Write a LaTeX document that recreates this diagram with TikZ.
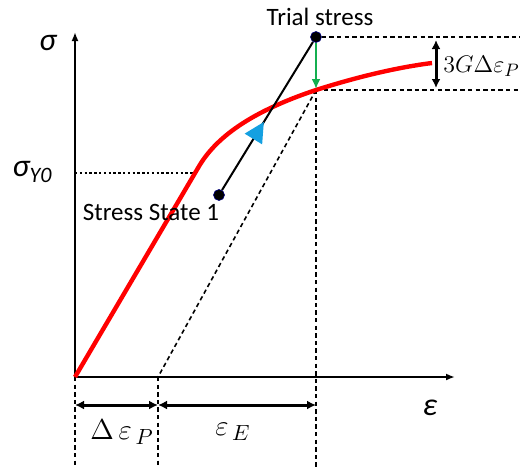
\documentclass[tikz,border=0pt]{standalone}
\usepackage{fontspec}
\setmainfont{Carlito}
\usetikzlibrary{arrows.meta,decorations.markings}
\definecolor{trialblue}{RGB}{20,160,225}
\definecolor{returngreen}{RGB}{20,175,80}

\begin{document}
\begin{tikzpicture}[x=0.5pt,y=-0.5pt,
	guide/.style={dash pattern=on 2.2pt off 1.6pt, line width=0.8pt},
	dim/.style={{Latex[length=4.5pt,width=4.5pt]}-{Latex[length=4.5pt,width=4.5pt]}, line width=1.5pt},
	dot/.style={circle, fill=black, draw=blue!50!black, line width=0.3pt, inner sep=0pt, minimum size=5.5pt},
	lbl/.style={font=\fontsize{12.5}{14}\selectfont},
	big/.style={font=\fontsize{16}{18}\selectfont\itshape}]
	\useasboundingbox (0,0) rectangle (530,467);
	
	% Key points of the diagram
	\coordinate (O) at (75,377);
	\coordinate (ytop) at (75,32);
	\coordinate (xend) at (455,377);
	\coordinate (E) at (158,377);
	\coordinate (Y) at (198,168);
	\coordinate (R) at (316,90);
	\coordinate (C) at (432,63);
	\node[dot] (S1) at (219,195) {};
	\node[dot] (T) at (316,37) {};
	
	% Axes
	\draw[-{Latex[length=4.5pt,width=3.5pt]}, line width=0.9pt] (O) -- (ytop);
	\draw[-{Latex[length=4.5pt,width=3.5pt]}, line width=0.9pt] (O) -- (xend);
	
	% Yield stress level
	\draw[line width=1.1pt, dash pattern=on 1.2pt off 1.2pt] (75,173) -- (195,173);
	
	% Guide lines
	\draw[guide] (R) -- (E);
	\draw[guide] (R) -- (316,467);
	\draw[guide] (O) -- (75,467);
	\draw[guide] (E) -- (158,467);
	\draw[guide] (T) -- (520,37);
	\draw[guide] (R) -- (520,90);
	
	% Stress-strain curve
	\draw[red, line width=2.2pt] (O) -- (Y) .. controls (215,138) and (250,112) .. (R)
		.. controls (360,76) and (400,67) .. (C);
	
	% Elastic predictor and plastic corrector
	\draw[line width=1pt, postaction={decorate}, decoration={markings,
		mark=at position 0.46 with {\arrow[trialblue]{Triangle[length=10pt,width=10pt]}}}] (S1) -- (T);
	\draw[returngreen, line width=1.3pt, -{Latex[length=5pt,width=4.5pt]}, shorten >=0.5pt] (T) -- (R);
	
	% Dimension arrows
	\draw[dim] (436,40) -- (436,88);
	\draw[dim] (75,405) -- (158,405);
	\draw[dim] (158,405) -- (316,405);
	
	% Labels
	\node[lbl] (trial) at (320,17) {Trial stress};
	\node[lbl] (state) at (151,212) {Stress State 1};
	\node[big] (sig) at (48,43) {σ};
	\node[big] (sigy) at (32,172) {σ\raisebox{-0.4ex}{\fontsize{11}{12}\selectfont Y0}};
	\node[big] (eps) at (430,408) {ε};
	\node[anchor=west, inner sep=0pt] (dsig) at (443,66) {\fontsize{13}{15}\selectfont $3G\Delta\varepsilon_{P}$};
	\node (dep) at (122,432) {\fontsize{15}{17}\selectfont $\Delta\,\varepsilon_{\,P}$};
	\node (ee) at (233,432) {\fontsize{15}{17}\selectfont $\varepsilon_{\,E}$};
\end{tikzpicture}
\end{document}
